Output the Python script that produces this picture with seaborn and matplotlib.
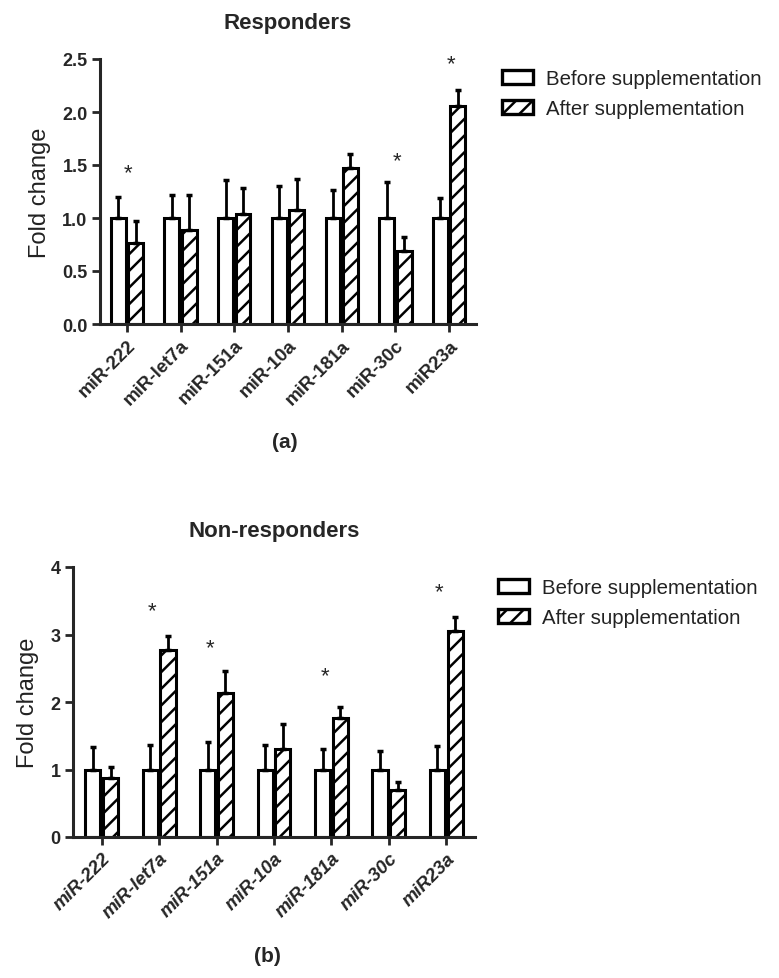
import pandas as pd
import matplotlib
matplotlib.use("Agg")
import matplotlib.pyplot as plt
from matplotlib.patches import Patch
import seaborn as sns
import numpy as np

# data
mirnas = ["miR-222", "miR-let7a", "miR-151a", "miR-10a", "miR-181a", "miR-30c", "miR23a"]
groups = ["Before supplementation", "After supplementation"]

resp_before = [1.0, 1.0, 1.0, 1.0, 1.0, 1.0, 1.0]
resp_before_err = [1.20, 1.22, 1.36, 1.30, 1.26, 1.34, 1.19]
resp_after = [0.76, 0.89, 1.04, 1.08, 1.47, 0.69, 2.06]
resp_after_err = [0.97, 1.22, 1.28, 1.37, 1.60, 0.82, 2.21]
resp_stars = [1.43, None, None, None, None, 1.54, 2.46]

non_before = [1.0, 1.0, 1.0, 1.0, 1.0, 1.0, 1.0]
non_before_err = [1.33, 1.36, 1.41, 1.36, 1.30, 1.27, 1.35]
non_after = [0.87, 2.77, 2.13, 1.30, 1.76, 0.70, 3.05]
non_after_err = [1.04, 2.98, 2.46, 1.67, 1.93, 0.81, 3.26]
non_stars = [None, 3.35, 2.81, None, 2.39, None, 3.63]

sns.set_style("ticks")
plt.rcParams["font.family"] = ["Liberation Sans", "DejaVu Sans"]
plt.rcParams["hatch.linewidth"] = 1.8
plt.rcParams["hatch.color"] = "black"

W, H = 779, 979
fig = plt.figure(figsize=(W / 100, H / 100), dpi=100)


def px_axes(left, right, top, bottom):
    return fig.add_axes([left / W, 1 - bottom / H, (right - left) / W, (bottom - top) / H])


def panel(ax, before, before_err, after, after_err, stars, ymax, yticks, ytl,
          title, star_dx, italic, width):
    df = pd.DataFrame({
        "miRNA": mirnas * 2,
        "group": [groups[0]] * 7 + [groups[1]] * 7,
        "fc": before + after,
    })
    sns.barplot(data=df, x="miRNA", y="fc", hue="group", order=mirnas,
                hue_order=groups, palette=["white", "white"], errorbar=None,
                width=width, gap=0.15, edgecolor="black", linewidth=2.2, ax=ax)
    for bar in ax.containers[1]:
        bar.set_hatch("//")
    # upward-only error bars
    for cont, vals, tops in zip(ax.containers, [before, after], [before_err, after_err]):
        xs = [b.get_x() + b.get_width() / 2 for b in cont]
        up = np.array(tops) - np.array(vals)
        ax.errorbar(xs, vals, yerr=[np.zeros(7), up], fmt="none", ecolor="black",
                    elinewidth=2.0, capsize=2.2, capthick=2.5, zorder=1)
    for i, s in enumerate(stars):
        if s is not None:
            ax.text(i + star_dx, s, "*", ha="center", va="center", fontsize=16)
    ax.set_xlim(-0.5, 6.5)
    ax.set_ylim(0, ymax)
    ax.set_yticks(yticks)
    ax.set_yticklabels(ytl, fontsize=13, fontweight="bold")
    ax.set_xticks(range(7))
    ax.set_xticklabels(mirnas, rotation=45, ha="right", rotation_mode="anchor",
                       fontsize=13.5, fontweight="bold",
                       fontstyle="italic" if italic else "normal")
    ax.set_xlabel("")
    ax.set_ylabel("Fold change", fontsize=17, color="#222222", labelpad=8)
    ax.set_title(title, fontsize=16, fontweight="bold", pad=22)
    for side in ["left", "bottom"]:
        ax.spines[side].set_linewidth(2.2)
    sns.despine(ax=ax)
    ax.tick_params(width=2, length=6, pad=3)
    ax.legend_.remove()


ax1 = px_axes(100, 476, 60, 325)
panel(ax1, resp_before, resp_before_err, resp_after, resp_after_err, resp_stars,
      2.5, [0, 0.5, 1.0, 1.5, 2.0, 2.5], ["0.0", "0.5", "1.0", "1.5", "2.0", "2.5"],
      "Responders", 0.03, False, 0.65)

ax2 = px_axes(73, 475, 568, 838)
panel(ax2, non_before, non_before_err, non_after, non_after_err, non_stars,
      4, [0, 1, 2, 3, 4], ["0", "1", "2", "3", "4"],
      "Non-responders", -0.12, True, 0.62)

for x0, ytop in [(502, 70), (498, 579)]:
    handles = [Patch(facecolor="white", edgecolor="black", linewidth=2.4),
               Patch(facecolor="white", edgecolor="black", linewidth=2.4, hatch="//")]
    fig.legend(handles, groups, loc="upper left", bbox_to_anchor=(x0 / W, 1 - ytop / H),
               frameon=False, fontsize=14.7, handlelength=1.5, handleheight=0.65,
               handletextpad=0.65, labelspacing=0.55, labelcolor="#222222",
               borderaxespad=0, borderpad=0)

fig.text(285 / W, 1 - 443 / H, "(a)", ha="center", va="center", fontsize=15, fontweight="bold")
fig.text(267 / W, 1 - 957 / H, "(b)", ha="center", va="center", fontsize=15, fontweight="bold")

fig.savefig("out.png", dpi=100)
